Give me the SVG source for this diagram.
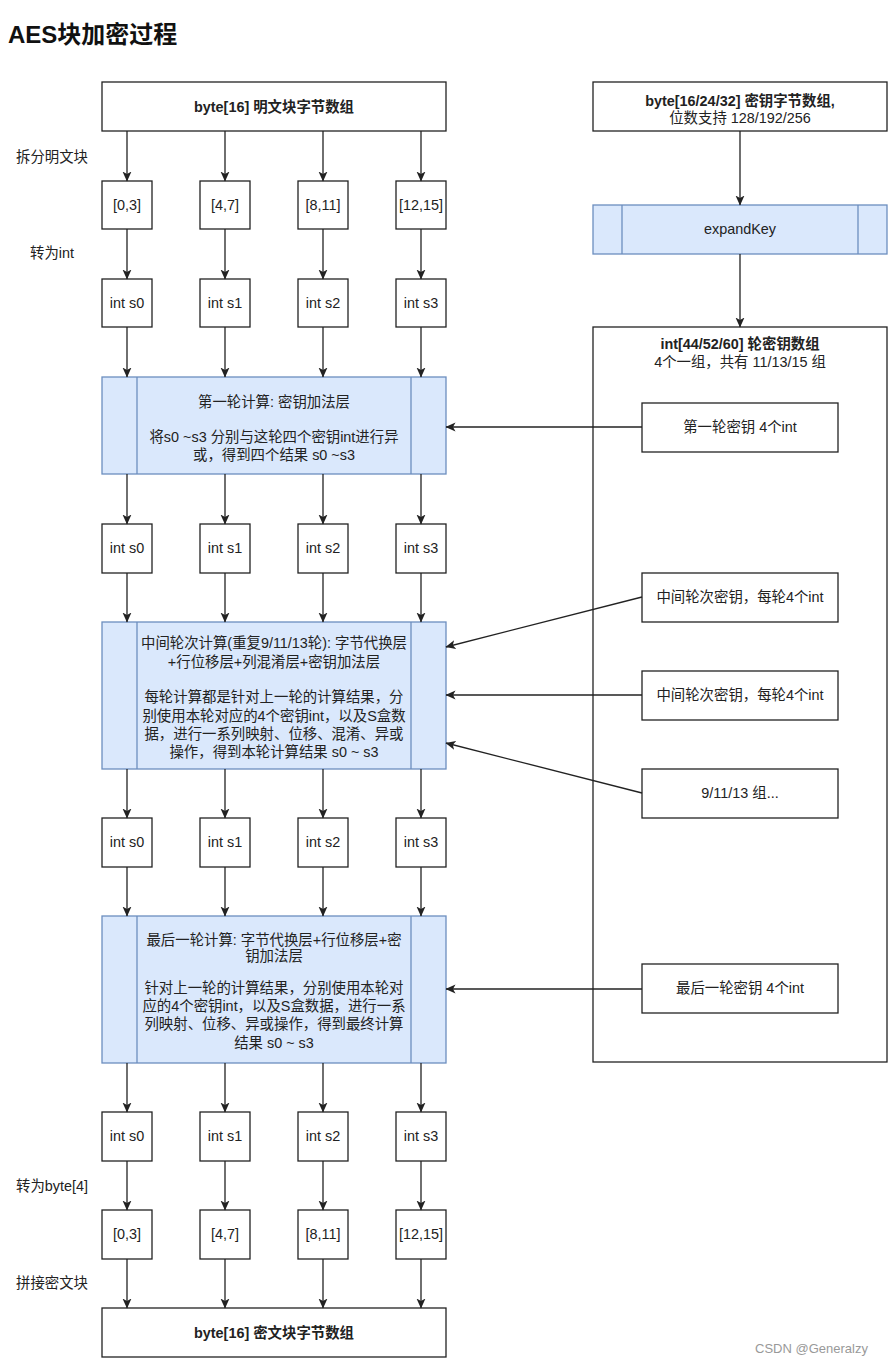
<svg xmlns="http://www.w3.org/2000/svg" width="889" height="1366" viewBox="0 0 889 1366">
<defs>
<style>
.t{font-family:"Liberation Sans","Noto Sans CJK SC",sans-serif;font-size:14.4px;fill:#222;text-anchor:middle}
.b{font-weight:bold}
.box{fill:#fff;stroke:#222;stroke-width:1.3}
.blue{fill:#dae8fc;stroke:#6c8ebf;stroke-width:1.3}
.con line{stroke:#222;stroke-width:1.3;marker-end:url(#arr)}
</style>
<marker id="arr" viewBox="0 0 10 10" refX="9.5" refY="5" markerWidth="10" markerHeight="10" markerUnits="userSpaceOnUse" orient="auto">
<path d="M0,0.5 L10,5 L0,9.5 L2.5,5 Z" fill="#222"/>
</marker>
</defs>
<rect width="889" height="1366" fill="#fff"/>
<text x="8" y="43" font-family="Liberation Sans,Noto Sans CJK SC,sans-serif" font-size="24" font-weight="bold" fill="#111">AES块加密过程</text>

<g id="labels">
<text class="t" x="52" y="162">拆分明文块</text>
<text class="t" x="52" y="258">转为int</text>
<text class="t" x="52" y="1191">转为byte[4]</text>
<text class="t" x="52" y="1288">拼接密文块</text>
</g>

<g id="plain-block"><rect class="box" x="102" y="82" width="344" height="49"/><text class="t b" x="274" y="112">byte[16] 明文块字节数组</text></g>

<g id="split-row">
<rect class="box" x="102" y="181" width="50" height="48"/><text class="t" x="127" y="210">[0,3]</text>
<rect class="box" x="200" y="181" width="50" height="48"/><text class="t" x="225" y="210">[4,7]</text>
<rect class="box" x="298" y="181" width="50" height="48"/><text class="t" x="323" y="210">[8,11]</text>
<rect class="box" x="396" y="181" width="50" height="48"/><text class="t" x="421" y="210">[12,15]</text>
</g>
<g id="int-row-1">
<rect class="box" x="102" y="279" width="50" height="48"/><text class="t" x="127" y="308">int s0</text>
<rect class="box" x="200" y="279" width="50" height="48"/><text class="t" x="225" y="308">int s1</text>
<rect class="box" x="298" y="279" width="50" height="48"/><text class="t" x="323" y="308">int s2</text>
<rect class="box" x="396" y="279" width="50" height="48"/><text class="t" x="421" y="308">int s3</text>
</g>
<g id="round-first">
<rect class="blue" x="102" y="377" width="344" height="97"/>
<line x1="137" y1="377" x2="137" y2="474" stroke="#6c8ebf" stroke-width="1.3"/>
<line x1="411" y1="377" x2="411" y2="474" stroke="#6c8ebf" stroke-width="1.3"/>
<text class="t" x="274" y="407">第一轮计算: 密钥加法层</text>
<text class="t" x="274" y="442">将s0 ~s3 分别与这轮四个密钥int进行异</text>
<text class="t" x="274" y="460">或，得到四个结果 s0 ~s3</text>
</g>
<g id="int-row-2">
<rect class="box" x="102" y="524" width="50" height="49"/><text class="t" x="127" y="553">int s0</text>
<rect class="box" x="200" y="524" width="50" height="49"/><text class="t" x="225" y="553">int s1</text>
<rect class="box" x="298" y="524" width="50" height="49"/><text class="t" x="323" y="553">int s2</text>
<rect class="box" x="396" y="524" width="50" height="49"/><text class="t" x="421" y="553">int s3</text>
</g>
<g id="round-middle">
<rect class="blue" x="102" y="622" width="344" height="147"/>
<line x1="137" y1="622" x2="137" y2="769" stroke="#6c8ebf" stroke-width="1.3"/>
<line x1="411" y1="622" x2="411" y2="769" stroke="#6c8ebf" stroke-width="1.3"/>
<text class="t" x="274" y="648">中间轮次计算(重复9/11/13轮): 字节代换层</text>
<text class="t" x="274" y="667">+行位移层+列混淆层+密钥加法层</text>
<text class="t" x="274" y="702">每轮计算都是针对上一轮的计算结果，分</text>
<text class="t" x="274" y="721">别使用本轮对应的4个密钥int，以及S盒数</text>
<text class="t" x="274" y="739">据，进行一系列映射、位移、混淆、异或</text>
<text class="t" x="274" y="757">操作，得到本轮计算结果 s0 ~ s3</text>
</g>
<g id="int-row-3">
<rect class="box" x="102" y="818" width="50" height="49"/><text class="t" x="127" y="847">int s0</text>
<rect class="box" x="200" y="818" width="50" height="49"/><text class="t" x="225" y="847">int s1</text>
<rect class="box" x="298" y="818" width="50" height="49"/><text class="t" x="323" y="847">int s2</text>
<rect class="box" x="396" y="818" width="50" height="49"/><text class="t" x="421" y="847">int s3</text>
</g>
<g id="round-last">
<rect class="blue" x="102" y="916" width="344" height="147"/>
<line x1="137" y1="916" x2="137" y2="1063" stroke="#6c8ebf" stroke-width="1.3"/>
<line x1="411" y1="916" x2="411" y2="1063" stroke="#6c8ebf" stroke-width="1.3"/>
<text class="t" x="274" y="945">最后一轮计算: 字节代换层+行位移层+密</text>
<text class="t" x="274" y="961">钥加法层</text>
<text class="t" x="274" y="993">针对上一轮的计算结果，分别使用本轮对</text>
<text class="t" x="274" y="1011">应的4个密钥int，以及S盒数据，进行一系</text>
<text class="t" x="274" y="1029">列映射、位移、异或操作，得到最终计算</text>
<text class="t" x="274" y="1048">结果 s0 ~ s3</text>
</g>
<g id="int-row-4">
<rect class="box" x="102" y="1112" width="50" height="49"/><text class="t" x="127" y="1141">int s0</text>
<rect class="box" x="200" y="1112" width="50" height="49"/><text class="t" x="225" y="1141">int s1</text>
<rect class="box" x="298" y="1112" width="50" height="49"/><text class="t" x="323" y="1141">int s2</text>
<rect class="box" x="396" y="1112" width="50" height="49"/><text class="t" x="421" y="1141">int s3</text>
</g>
<g id="byte-row">
<rect class="box" x="102" y="1210" width="50" height="49"/><text class="t" x="127" y="1239">[0,3]</text>
<rect class="box" x="200" y="1210" width="50" height="49"/><text class="t" x="225" y="1239">[4,7]</text>
<rect class="box" x="298" y="1210" width="50" height="49"/><text class="t" x="323" y="1239">[8,11]</text>
<rect class="box" x="396" y="1210" width="50" height="49"/><text class="t" x="421" y="1239">[12,15]</text>
</g>
<g id="cipher-block"><rect class="box" x="102" y="1308" width="344" height="49"/><text class="t b" x="274" y="1338">byte[16] 密文块字节数组</text></g>

<g id="key-bytes"><rect class="box" x="593" y="82" width="294" height="49"/>
<text class="t b" x="740" y="106">byte[16/24/32] 密钥字节数组,</text>
<text class="t" x="740" y="123">位数支持 128/192/256</text></g>
<g id="expand-key">
<rect class="blue" x="593" y="205" width="294" height="49"/>
<line x1="622" y1="205" x2="622" y2="254" stroke="#6c8ebf" stroke-width="1.3"/>
<line x1="858" y1="205" x2="858" y2="254" stroke="#6c8ebf" stroke-width="1.3"/>
<text class="t" x="740" y="234">expandKey</text>
</g>
<g id="round-keys">
<rect class="box" x="593" y="327" width="294" height="735"/>
<text class="t b" x="740" y="349">int[44/52/60] 轮密钥数组</text>
<text class="t" x="740" y="367">4个一组，共有 11/13/15 组</text>
</g>
<g id="key-first"><rect class="box" x="642" y="403" width="196" height="49"/><text class="t" x="740" y="432">第一轮密钥 4个int</text></g>
<g id="key-mid-1"><rect class="box" x="642" y="573" width="196" height="49"/><text class="t" x="740" y="602">中间轮次密钥，每轮4个int</text></g>
<g id="key-mid-2"><rect class="box" x="642" y="671" width="196" height="49"/><text class="t" x="740" y="700">中间轮次密钥，每轮4个int</text></g>
<g id="key-mid-3"><rect class="box" x="642" y="769" width="196" height="49"/><text class="t" x="740" y="798">9/11/13 组...</text></g>
<g id="key-last"><rect class="box" x="642" y="964" width="196" height="49"/><text class="t" x="740" y="993">最后一轮密钥 4个int</text></g>

<g class="con" id="connectors">
<line x1="127" y1="131" x2="127" y2="181"/><line x1="225" y1="131" x2="225" y2="181"/><line x1="323" y1="131" x2="323" y2="181"/><line x1="421" y1="131" x2="421" y2="181"/>
<line x1="127" y1="229" x2="127" y2="279"/><line x1="225" y1="229" x2="225" y2="279"/><line x1="323" y1="229" x2="323" y2="279"/><line x1="421" y1="229" x2="421" y2="279"/>
<line x1="127" y1="327" x2="127" y2="377"/><line x1="225" y1="327" x2="225" y2="377"/><line x1="323" y1="327" x2="323" y2="377"/><line x1="421" y1="327" x2="421" y2="377"/>
<line x1="127" y1="474" x2="127" y2="524"/><line x1="225" y1="474" x2="225" y2="524"/><line x1="323" y1="474" x2="323" y2="524"/><line x1="421" y1="474" x2="421" y2="524"/>
<line x1="127" y1="573" x2="127" y2="622"/><line x1="225" y1="573" x2="225" y2="622"/><line x1="323" y1="573" x2="323" y2="622"/><line x1="421" y1="573" x2="421" y2="622"/>
<line x1="127" y1="769" x2="127" y2="818"/><line x1="225" y1="769" x2="225" y2="818"/><line x1="323" y1="769" x2="323" y2="818"/><line x1="421" y1="769" x2="421" y2="818"/>
<line x1="127" y1="867" x2="127" y2="916"/><line x1="225" y1="867" x2="225" y2="916"/><line x1="323" y1="867" x2="323" y2="916"/><line x1="421" y1="867" x2="421" y2="916"/>
<line x1="127" y1="1063" x2="127" y2="1112"/><line x1="225" y1="1063" x2="225" y2="1112"/><line x1="323" y1="1063" x2="323" y2="1112"/><line x1="421" y1="1063" x2="421" y2="1112"/>
<line x1="127" y1="1161" x2="127" y2="1210"/><line x1="225" y1="1161" x2="225" y2="1210"/><line x1="323" y1="1161" x2="323" y2="1210"/><line x1="421" y1="1161" x2="421" y2="1210"/>
<line x1="127" y1="1259" x2="127" y2="1308"/><line x1="225" y1="1259" x2="225" y2="1308"/><line x1="323" y1="1259" x2="323" y2="1308"/><line x1="421" y1="1259" x2="421" y2="1308"/>
<line x1="740" y1="131" x2="740" y2="205"/>
<line x1="740" y1="254" x2="740" y2="327"/>
<line x1="642" y1="427" x2="446" y2="427"/>
<line x1="642" y1="597" x2="446" y2="647"/>
<line x1="642" y1="695" x2="446" y2="695"/>
<line x1="642" y1="793" x2="446" y2="743"/>
<line x1="642" y1="989" x2="446" y2="989"/>
</g>
<text x="755" y="1353" font-family="Liberation Sans,sans-serif" font-size="13" fill="#999">CSDN @Generalzy</text>
</svg>
